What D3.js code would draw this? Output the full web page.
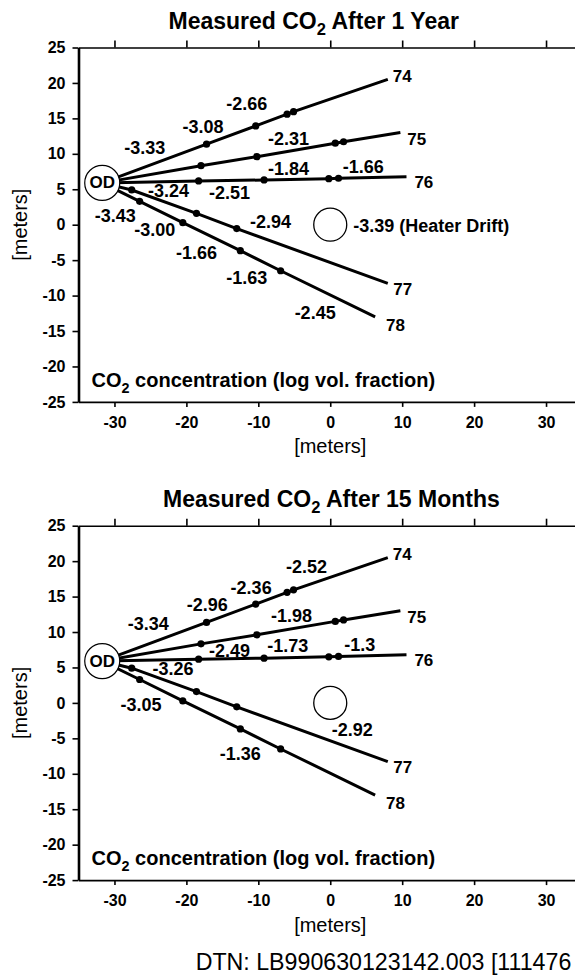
<!DOCTYPE html>
<html>
<head>
<meta charset="utf-8">
<script src="https://cdn.jsdelivr.net/npm/d3@7"></script>
<style>
  body { margin: 0; background: #fff; overflow: hidden; }
  svg { display: block; font-family: "Liberation Sans", Arial, Helvetica, sans-serif; }
  .axis text { font-size: 16px; font-weight: bold; fill: #000; }
  .axis path, .axis line { stroke: #000; stroke-width: 1.6; }
  .hole { fill: none; stroke: #000; stroke-width: 3; stroke-linejoin: round; }
  .val { font-size: 18px; font-weight: bold; fill: #000; }
  .hname { font-size: 17px; }
</style>
</head>
<body>
<div id="chart"></div>
<script>
// ---------------------------------- data
// borehole names, OD (where all holes start) and the heater drift marker
const holes = ["74", "75", "76", "77", "78"];
const odCenter = [-31.7, 5.9];
const heaterCenter = [0, 0];

// sensor positions along each hole [x, y] in meters, last one = end of hole
const hole74 = [[-17.2, 11.36], [-10.36, 13.94], [-6.0, 15.6], [-5.1, 15.95], [8.0, 20.5]];
const hole75 = [[-17.97, 8.33], [-10.2, 9.6], [0.7, 11.5], [1.85, 11.7], [9.75, 13.0]];
const hole76 = [[-18.3, 6.17], [-9.2, 6.31], [-0.2, 6.5], [1.15, 6.55], [10.6, 6.78]];
const hole77 = [[-27.6, 4.9], [-18.6, 1.6], [-13.0, -0.55], [8.0, -8.28]];
const hole78 = [[-26.5, 3.3], [-20.5, 0.28], [-12.5, -3.67], [-6.9, -6.5], [6.24, -13.0]];

// where the hole names are written
const holeLabelPos = [[8.7, 20.9], [10.7, 12.0], [11.7, 6.0], [8.75, -9.08], [7.75, -14.2]];

// measured CO2 after 1 year (log vol. fraction) and where each value is written
const co2Year = ["-3.33", "-3.08", "-2.66", "-2.31", "-1.84", "-1.66", "-3.24", "-2.51",
                 "-3.43", "-3.00", "-2.94", "-1.66", "-1.63", "-2.45"];
const co2YearPos = [[-25.8, 10.8], [-17.7, 13.84], [-11.6, 17.05], [-5.8, 12.1], [-5.8, 7.87],
                    [4.6, 8.19], [-22.5, 4.76], [-14.0, 4.43], [-29.9, 1.23], [-24.4, -0.75],
                    [-8.3, 0.42], [-18.6, -3.95], [-11.6, -7.57], [-2.1, -12.5]];
const heaterYear = "-3.39 (Heater Drift)";

// measured CO2 after 15 months
const co2Months = ["-2.52", "-2.36", "-2.96", "-3.34", "-1.98", "-2.49", "-1.73", "-1.3",
                   "-3.26", "-3.05", "-2.92", "-1.36"];
const co2MonthsPos = [[-3.3, 19.2], [-11.0, 16.24], [-17.1, 13.8], [-25.3, 11.1], [-5.4, 12.25],
                      [-14.0, 7.34], [-5.9, 8.0], [4.1, 8.15], [-21.85, 4.72], [-26.3, -0.23],
                      [3.06, -3.86], [-12.5, -7.15]];

const xTicks = [-30, -20, -10, 0, 10, 20, 30];
const yTicks = [25, 20, 15, 10, 5, 0, -5, -10, -15, -20, -25];

// ---------------------------------- layout
const left = 78.5,
    width = 503.5,   // right edge falls just outside the window, like the scan
    height = 354.4;

const svg = d3.select("#chart")
  .append("svg")
    .attr("width", 575)
    .attr("height", 979);

const x = d3.scaleLinear().domain([-35, 35]).range([0, width]);
const y = d3.scaleLinear().domain([-25, 25]).range([height, 0]);

const holeData = [hole74, hole75, hole76, hole77, hole78];

const line = d3.line()
    .x(d => x(d[0]))
    .y(d => y(d[1]));

// plain hyphen for negatives, as in the scan
const plain = d => String(d);

// text with a subscript 2
function co2Text(sel, before, after, size) {
  sel.append("tspan").text(before);
  sel.append("tspan").attr("dy", size * 0.28).style("font-size", (size * 0.72) + "px").text("2");
  sel.append("tspan").attr("dy", -size * 0.28).text(after);
}

function drawPanel(top, title, titleX, values, valuePos, heater) {
  const g = svg.append("g").attr("transform", `translate(${left},${top})`);

  // title
  const t = g.append("text")
      .attr("x", titleX - left)
      .attr("y", -19)
      .style("font-size", "23px")
      .style("font-weight", "bold");
  co2Text(t, "Measured CO", " After " + title, 23);

  // axes
  g.append("g")
      .attr("class", "axis")
      .attr("transform", `translate(0,${height})`)
      .call(d3.axisBottom(x).tickValues(xTicks).tickFormat(plain)
              .tickSize(5).tickPadding(10).tickSizeOuter(0));

  g.append("g")
      .attr("class", "axis")
      .call(d3.axisTop(x).tickValues(xTicks).tickSize(7).tickFormat("").tickSizeOuter(0));

  g.append("g")
      .attr("class", "axis")
      .call(d3.axisLeft(y).tickValues(yTicks).tickFormat(plain)
              .tickSize(6).tickPadding(7).tickSizeOuter(0))
      .select(".domain").style("stroke-width", 2.6);

  g.append("line")
      .attr("x1", width).attr("x2", width)
      .attr("y1", 0).attr("y2", height)
      .attr("stroke", "#000").attr("stroke-width", 2);

  // axis titles
  g.append("text")
      .attr("x", x(0))
      .attr("y", height + 51.5)
      .attr("text-anchor", "middle")
      .style("font-size", "20px")
      .text("[meters]");

  g.append("text")
      .attr("transform", `translate(${20 - left},${height / 2}) rotate(-90)`)
      .attr("text-anchor", "middle")
      .attr("dominant-baseline", "central")
      .style("font-size", "20px")
      .text("[meters]");

  const c = g.append("text")
      .attr("x", 13)
      .attr("y", height - 15)
      .style("font-size", "20px")
      .style("font-weight", "bold");
  co2Text(c, "CO", " concentration (log vol. fraction)", 20);

  // holes: from OD through the sensors to the hole end
  g.selectAll(".hole")
    .data(holeData)
    .join("path")
      .attr("class", "hole")
      .attr("d", d => line([odCenter].concat(d)));

  g.selectAll(".sensor")
    .data(holeData.flatMap(d => d.slice(0, -1)))
    .join("circle")
      .attr("class", "sensor")
      .attr("cx", d => x(d[0]))
      .attr("cy", d => y(d[1]))
      .attr("r", 3.6)
      .attr("fill", "#000");

  // OD ring
  g.append("circle")
      .attr("cx", x(odCenter[0]))
      .attr("cy", y(odCenter[1]))
      .attr("r", 17.5)
      .attr("fill", "#fff")
      .attr("stroke", "#000")
      .attr("stroke-width", 1.2);

  g.append("text")
      .attr("x", x(odCenter[0]))
      .attr("y", y(odCenter[1]))
      .attr("text-anchor", "middle")
      .attr("dominant-baseline", "central")
      .style("font-size", "17px")
      .style("font-weight", "bold")
      .text("OD");

  // heater drift ring
  g.append("circle")
      .attr("cx", x(heaterCenter[0]))
      .attr("cy", y(heaterCenter[1]))
      .attr("r", 16.5)
      .attr("fill", "none")
      .attr("stroke", "#000")
      .attr("stroke-width", 1.3);

  if (heater) {
    g.append("text")
        .attr("class", "val")
        .attr("x", x(3.2))
        .attr("y", y(-0.2))
        .attr("dominant-baseline", "central")
        .text(heater);
  }

  // hole names
  g.selectAll(".hname")
    .data(holes)
    .join("text")
      .attr("class", "val hname")
      .attr("x", (d, i) => x(holeLabelPos[i][0]))
      .attr("y", (d, i) => y(holeLabelPos[i][1]))
      .attr("dominant-baseline", "central")
      .text(d => d);

  // CO2 values
  g.selectAll(".co2")
    .data(values)
    .join("text")
      .attr("class", "val co2")
      .attr("x", (d, i) => x(valuePos[i][0]))
      .attr("y", (d, i) => y(valuePos[i][1]))
      .attr("text-anchor", "middle")
      .attr("dominant-baseline", "central")
      .text(d => d);
}

drawPanel(47.5, "1 Year", 168.5, co2Year, co2YearPos, heaterYear);
drawPanel(525.7, "15 Months", 163, co2Months, co2MonthsPos, null);

// footnote, as far as the scan shows it
svg.append("text")
    .attr("x", 195.7)
    .attr("y", 970)
    .style("font-size", "23.2px")
    .text("DTN: LB990630123142.003 [111476");
</script>
</body>
</html>
